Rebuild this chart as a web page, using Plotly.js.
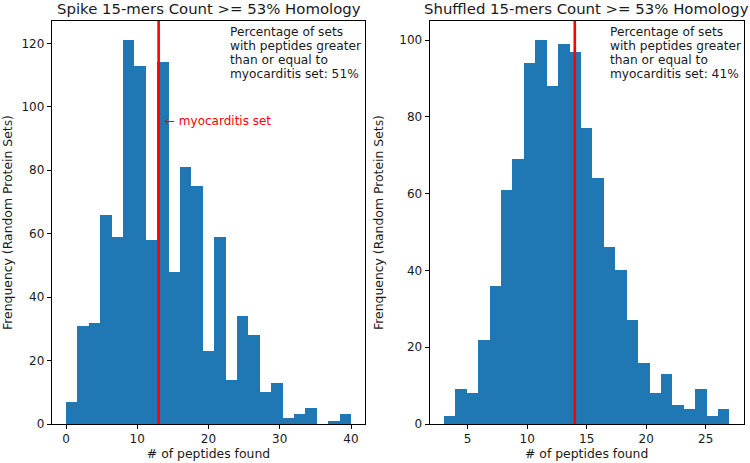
<!DOCTYPE html>
<html>
<head>
<meta charset="utf-8">
<script src="https://cdn.plot.ly/plotly-3.0.1.min.js"></script>
<style>html,body{margin:0;padding:0;background:#fff;}#chart{width:750px;height:463px;}</style>
</head>
<body>
<div id="chart"></div>
<script>
// ---- Data ----
const leftTitle = "Spike 15-mers Count >= 53% Homology";
const rightTitle = "Shuffled 15-mers Count >= 53% Homology";
const xLabel = "# of peptides found";
const yLabel = "Frenquency (Random Protein Sets)";

// Left histogram: 25 bins spanning 0..40
const leftBinRange = [0, 40];
const leftCounts = [7, 31, 32, 66, 59, 121, 113, 58, 114, 48, 81, 75, 23, 59, 14, 34, 28, 10, 13, 2, 3, 5, 0, 1, 3];
const leftMarker = 13;
const leftTickVals = [0, 10, 20, 30, 40];
const leftYTicks = [0, 20, 40, 60, 80, 100, 120];
const leftNote = ["Percentage of sets", "with peptides greater", "than or equal to", "myocarditis set: 51%"];
const markerLabel = "\u2190 myocarditis set";
const markerLabelY = 95.5;

// Right histogram: 25 bins spanning 3..27
const rightBinRange = [3, 27];
const rightCounts = [2, 9, 8, 22, 36, 61, 69, 94, 100, 88, 99, 97, 77, 64, 46, 40, 27, 16, 8, 13, 5, 4, 9, 2, 4];
const rightMarker = 14;
const rightTickVals = [5, 10, 15, 20, 25];
const rightYTicks = [0, 20, 40, 60, 80, 100];
const rightNote = ["Percentage of sets", "with peptides greater", "than or equal to", "myocarditis set: 41%"];

// ---- Build ----
function binCenters(range, n) {
  const w = (range[1] - range[0]) / n;
  const c = [];
  for (let i = 0; i < n; i++) c.push(range[0] + w * (i + 0.5));
  return {centers: c, width: w};
}
const L = binCenters(leftBinRange, leftCounts.length);
const R = binCenters(rightBinRange, rightCounts.length);

const barColor = '#1f77b4';
const font = "DejaVu Sans, Verdana, sans-serif";
const txt = '#1a1a1a';

const traces = [
  {type: 'bar', x: L.centers, y: leftCounts, width: L.width, marker: {color: barColor, line: {width: 0}},
   xaxis: 'x', yaxis: 'y', hoverinfo: 'x+y', showlegend: false},
  {type: 'bar', x: R.centers, y: rightCounts, width: R.width, marker: {color: barColor, line: {width: 0}},
   xaxis: 'x2', yaxis: 'y2', hoverinfo: 'x+y', showlegend: false}
];

function pad(range, frac) { const d = (range[1] - range[0]) * frac; return [range[0] - d, range[1] + d]; }

const axisCommon = {
  showline: true, mirror: true, linecolor: '#000', linewidth: 1,
  ticks: 'outside', ticklen: 4, tickwidth: 1, tickcolor: '#000',
  showgrid: false, zeroline: false,
  tickfont: {family: font, size: 12, color: txt}
};
const titleFont = {family: font, size: 12.4, color: txt};

const layout = {
  width: 750, height: 463,
  margin: {l: 0, r: 0, t: 21, b: 39},
  paper_bgcolor: '#fff', plot_bgcolor: '#fff',
  bargap: 0,
  font: {family: font, color: txt},
  xaxis: Object.assign({}, axisCommon, {
    domain: [0.069, 0.487], anchor: 'y', range: pad(leftBinRange, 0.05),
    tickvals: leftTickVals, title: {text: xLabel, standoff: 3, font: titleFont}
  }),
  yaxis: Object.assign({}, axisCommon, {
    domain: [0, 1], anchor: 'x', range: [0, Math.max(...leftCounts) * 1.05],
    tickvals: leftYTicks, title: {text: yLabel, standoff: 6, font: titleFont}
  }),
  xaxis2: Object.assign({}, axisCommon, {
    domain: [0.5728, 0.9917], anchor: 'y2', range: pad(rightBinRange, 0.05),
    tickvals: rightTickVals, title: {text: xLabel, standoff: 3, font: titleFont}
  }),
  yaxis2: Object.assign({}, axisCommon, {
    domain: [0, 1], anchor: 'x2', range: [0, Math.max(...rightCounts) * 1.05],
    tickvals: rightYTicks, title: {text: yLabel, standoff: 12, font: titleFont}
  }),
  shapes: [
    {type: 'line', xref: 'x', yref: 'y domain', x0: leftMarker, x1: leftMarker, y0: 0, y1: 1, line: {color: '#ff0000', width: 2.6}},
    {type: 'line', xref: 'x2', yref: 'y2 domain', x0: rightMarker, x1: rightMarker, y0: 0, y1: 1, line: {color: '#ff0000', width: 2.6}}
  ],
  annotations: [
    {xref: 'x domain', yref: 'paper', x: 0.5, y: 1, yanchor: 'bottom', yshift: 1, showarrow: false,
     text: leftTitle, font: {family: font, size: 14.9, color: txt}},
    {xref: 'x2 domain', yref: 'paper', x: 0.5, y: 1, yanchor: 'bottom', yshift: 1, showarrow: false,
     text: rightTitle, font: {family: font, size: 14.9, color: txt}},
    {xref: 'x', yref: 'y', x: leftMarker + 0.6, y: markerLabelY, xanchor: 'left', yanchor: 'middle',
     showarrow: false, text: markerLabel, font: {family: font, size: 12, color: '#ff0000'}}
  ]
};

// note lines, one annotation per line for matplotlib-like line spacing
function addNote(lines, xr, yr, xpos) {
  lines.forEach(function (s, i) {
    layout.annotations.push({xref: xr, yref: yr, x: xpos, y: 0.9735, xanchor: 'left', yanchor: 'middle',
      yshift: -14.2 * i, showarrow: false, align: 'left', text: s, font: {family: font, size: 12.2, color: txt}});
  });
}
addNote(leftNote, 'x domain', 'y domain', 0.562);
addNote(rightNote, 'x2 domain', 'y2 domain', 0.567);

Plotly.newPlot('chart', traces, layout, {displayModeBar: false, staticPlot: true});
</script>
</body>
</html>
